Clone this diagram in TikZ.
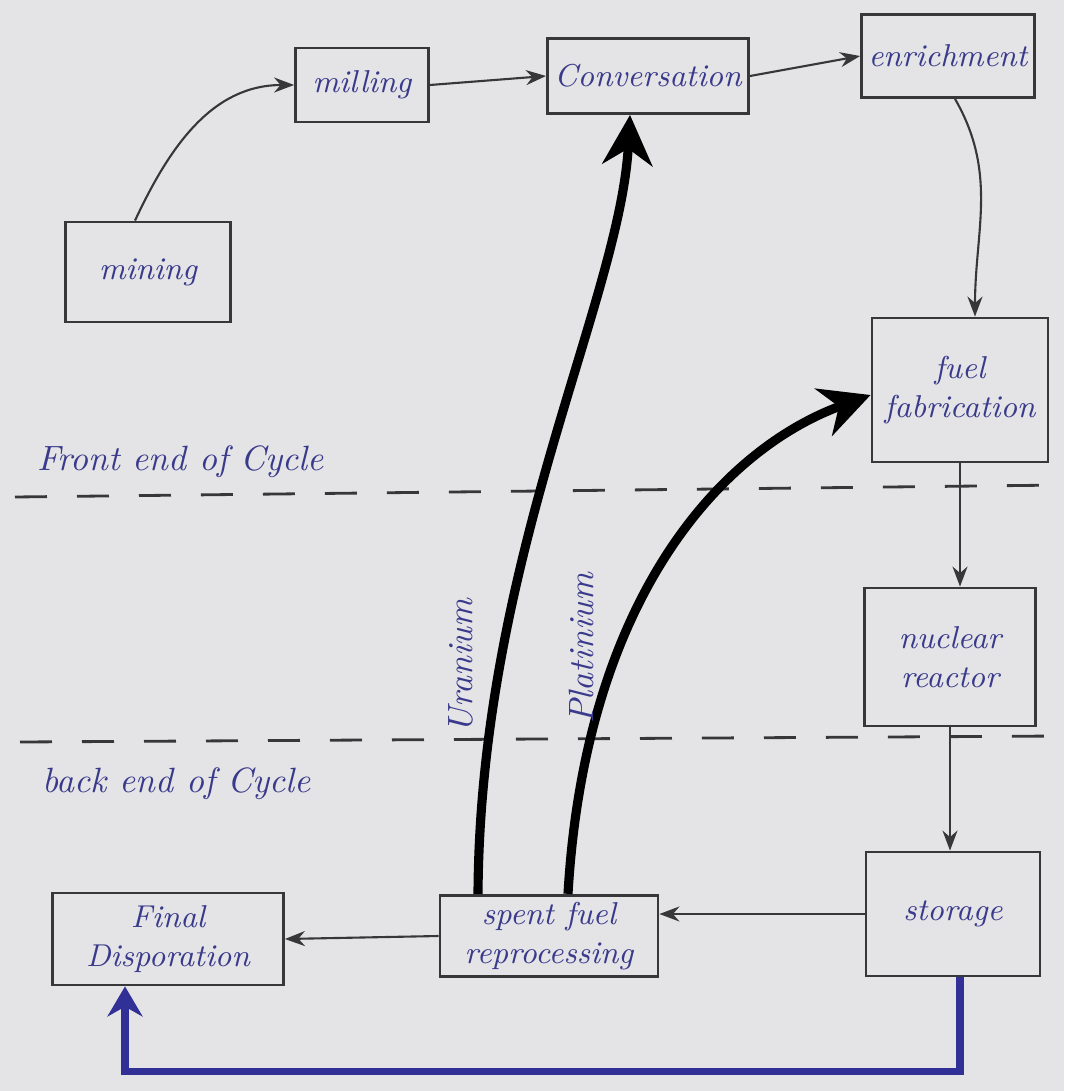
\documentclass[tikz,border=0pt]{standalone}
\usepackage{tikz}
\usetikzlibrary{arrows.meta,positioning,calc}
\definecolor{ink}{RGB}{58,58,140}
\definecolor{pencil}{RGB}{55,55,58}
\definecolor{paper}{RGB}{228,228,230}
\definecolor{bluepen}{RGB}{48,48,150}

\tikzset{
  stage/.style={draw=pencil, thick, text=ink, font=\itshape\small,
    align=center, inner sep=2pt},
  flow/.style={draw=pencil, semithick, -Stealth},
  recycle/.style={draw=black, line width=2.6pt,
    -{Stealth[length=5mm,width=5mm]}},
  boundary/.style={draw=pencil, thick, dash pattern=on 3.2mm off 3mm},
  note/.style={text=ink, font=\itshape\normalsize}
}

\begin{document}
\begin{tikzpicture}
  \fill[paper](0,0)rectangle(10.64,-10.91);
  % front end
  \node[stage, minimum width=1.65cm, minimum height=1cm](mining) at (1.48,-2.72){mining};
  \node[stage, minimum width=1.33cm, minimum height=0.74cm](milling) at (3.62,-0.85){milling};
  \node[stage, minimum width=1.6cm, minimum height=0.75cm](conv) at (6.48,-0.76){Conversation};
  \node[stage, minimum width=1.64cm, minimum height=0.83cm](enrich) at (9.48,-0.56){enrichment};
  \node[stage, minimum width=1.76cm, minimum height=1.44cm](fab) at (9.6,-3.9){fuel\\fabrication};
  \node[stage, minimum width=1.71cm, minimum height=1.38cm](reactor) at (9.5,-6.57){nuclear\\reactor};
  % back end
  \node[stage, minimum width=1.74cm, minimum height=1.24cm](storage) at (9.53,-9.14){storage};
  \node[stage, minimum width=2.18cm, minimum height=0.78cm](reproc) at (5.49,-9.36){spent fuel\\reprocessing};
  \node[stage, minimum width=2.31cm, minimum height=0.92cm](final) at (1.68,-9.39){Final\\Disporation};
  % phases of the cycle
  \coordinate(frontL) at (0.15,-4.97);
  \coordinate(frontR) at (10.64,-4.85);
  \coordinate(backL) at (0.2,-7.42);
  \coordinate(backR) at (10.6,-7.36);
  \draw[boundary](frontL)--(frontR);
  \draw[boundary](backL)--(backR);
  \node[note, anchor=south west](front) at (0.25,-4.9){Front end of Cycle};
  \node[note, anchor=north west](back) at (0.3,-7.55){back end of Cycle};
  % material flow
  \draw[flow]([xshift=-1.3mm]mining.north) to[out=65, in=180] (milling.west);
  \draw[flow](milling.east)--(conv.west);
  \draw[flow](conv.east)--(enrich.west);
  \draw[flow]([xshift=0.7mm]enrich.south) to[out=-60, in=90] ([xshift=1.5mm]fab.north);
  \draw[flow](fab.south)--(fab.south|-reactor.north);
  \draw[flow](reactor.south)--(reactor.south|-storage.north);
  \draw[flow](storage.west)--(storage.west-|reproc.east);
  \draw[flow](reproc.west)--(final.east);
  \draw[draw=bluepen, line width=2.2pt, -{Stealth[length=3mm,width=3.5mm]}]
    ([xshift=0.7mm]storage.south)--++(0,-0.94)-|([xshift=-4.3mm]final.south);
  % recycled material
  \draw[recycle]([xshift=-7.1mm]reproc.north)
    .. controls (4.8,-5.6) and (6.2,-3.0) .. ([xshift=-1.8mm]conv.south)
    node[pos=0.24, rotate=90, anchor=south, yshift=1mm, note](uranium){Uranium};
  \draw[recycle]([xshift=1.9mm]reproc.north)
    .. controls (5.85,-6.0) and (7.2,-4.5) .. ([yshift=-0.5mm]fab.west)
    node[pos=0.33, rotate=90, anchor=south, yshift=1mm, note](plutonium){Platinium};
\end{tikzpicture}
\end{document}
